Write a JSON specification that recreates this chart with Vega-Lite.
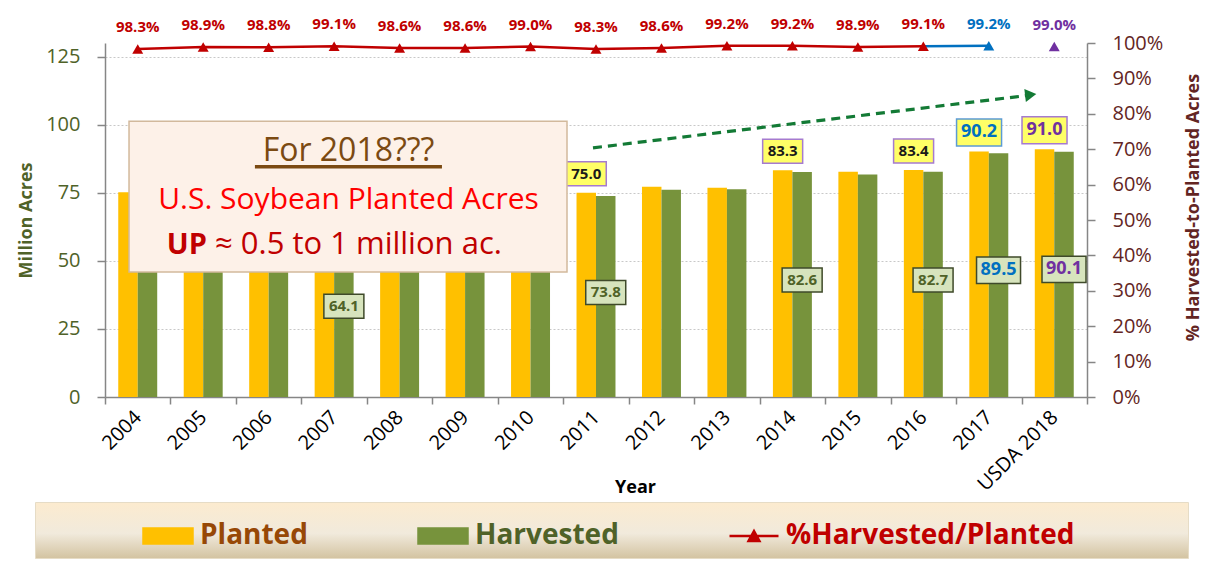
{
  "$schema": "https://vega.github.io/schema/vega-lite/v6.json",
  "width": 982,
  "height": 354,
  "autosize": {"type": "none"},
  "padding": {"left": 105, "top": 43, "right": 138, "bottom": 174},
  "background": "#ffffff",
  "config": {"font": "Open Sans", "view": {"stroke": null}, "axis": {"labelFont": "Open Sans", "titleFont": "Open Sans"}},
  "data": {"values": [
    {"year": "2004", "Planted": 75.2, "Harvested": 74.0, "pct": 0.983},
    {"year": "2005", "Planted": 72.0, "Harvested": 71.3, "pct": 0.989},
    {"year": "2006", "Planted": 75.5, "Harvested": 74.6, "pct": 0.988},
    {"year": "2007", "Planted": 64.7, "Harvested": 64.1, "pct": 0.991},
    {"year": "2008", "Planted": 75.7, "Harvested": 74.7, "pct": 0.986},
    {"year": "2009", "Planted": 77.5, "Harvested": 76.4, "pct": 0.986},
    {"year": "2010", "Planted": 77.4, "Harvested": 76.6, "pct": 0.990},
    {"year": "2011", "Planted": 75.0, "Harvested": 73.8, "pct": 0.983},
    {"year": "2012", "Planted": 77.2, "Harvested": 76.1, "pct": 0.986},
    {"year": "2013", "Planted": 76.8, "Harvested": 76.3, "pct": 0.992},
    {"year": "2014", "Planted": 83.3, "Harvested": 82.6, "pct": 0.992},
    {"year": "2015", "Planted": 82.7, "Harvested": 81.7, "pct": 0.989},
    {"year": "2016", "Planted": 83.4, "Harvested": 82.7, "pct": 0.991},
    {"year": "2017", "Planted": 90.2, "Harvested": 89.5, "pct": 0.992},
    {"year": "USDA 2018", "Planted": 91.0, "Harvested": 90.1, "pct": 0.990}
  ]},
  "resolve": {"scale": {"y": "independent"}},
  "layer": [
    {
      "layer": [
        {
          "transform": [{"fold": ["Planted", "Harvested"], "as": ["series", "acres"]}],
          "mark": {"type": "bar"},
          "encoding": {
            "x": {
              "field": "year", "type": "nominal",
              "scale": {"domain": ["2004","2005","2006","2007","2008","2009","2010","2011","2012","2013","2014","2015","2016","2017","USDA 2018"], "paddingInner": 0, "paddingOuter": 0},
              "axis": {
                "title": "Year", "titleFontSize": 18, "titleFontWeight": "bold", "titleColor": "#000000",
                "titleX": 530, "titleY": 90, "titleBaseline": "middle", "titleAlign": "center",
                "labelAngle": -45, "labelAlign": "right", "labelBaseline": "middle", "labelFontSize": 20, "labelColor": "#000000",
                "labelPadding": 10, "tickBand": "extent", "tickSize": 7, "tickColor": "#868686", "domainColor": "#868686", "domainWidth": 1.5, "tickWidth": 1.5
              }
            },
            "xOffset": {"field": "series", "type": "nominal", "scale": {"domain": ["Planted", "Harvested"], "paddingInner": 0, "paddingOuter": 0.68}},
            "y": {
              "field": "acres", "type": "quantitative", "scale": {"domain": [0, 125]},
              "axis": {
                "orient": "left", "title": "Million Acres", "titleFontSize": 18, "titleFontWeight": "bold", "titleColor": "#4F6228", "titlePadding": 10,
                "values": [0, 25, 50, 75, 100, 125], "labelColor": "#4F6228", "labelFontSize": 20, "labelPadding": 17,
                "tickSize": 8, "tickColor": "#868686", "domainColor": "#868686", "domainWidth": 1.5, "tickWidth": 1.5,
                "grid": true, "gridColor": "#C8C8C8", "gridDash": [2, 2], "gridWidth": 1
              }
            },
            "color": {
              "field": "series", "type": "nominal",
              "scale": {"domain": ["Planted", "Harvested", "%Harvested/Planted"], "range": ["#FFC000", "#77933C", "#C00000"]},
              "legend": {
                "orient": "none", "legendX": -70, "legendY": 459, "direction": "horizontal",
                "title": ".", "titleOrient": "left", "titleOpacity": 0, "titlePadding": 96, "titleFontSize": 10,
                "padding": 8, "labelFont": "Open Sans", "labelFontSize": 28, "labelFontWeight": "bold",
                "labelOffset": 6, "columnPadding": 105, "symbolSize": 2401, "symbolType": "M-1,-0.306H1V0.306H-1Z",
                "labelLimit": 700,
                "encode": {
                  "legend": {"update": {
                    "fill": {"value": {"gradient": "linear", "x1": 0, "y1": 0, "x2": 0, "y2": 1, "stops": [{"offset": 0, "color": "#FCEBCF"}, {"offset": 0.55, "color": "#F1EADC"}, {"offset": 1, "color": "#D3C3A1"}]}},
                    "stroke": {"value": "#E6DCC6"}
                  }},
                  "symbols": {"update": {
                    "shape": [{"test": "datum.value === '%Harvested/Planted'", "value": "M-1,0H1M-0.22,0.2L0,-0.2L0.22,0.2Z"}, {"value": "M-1,-0.306H1V0.306H-1Z"}],
                    "fill": [{"test": "datum.value === 'Planted'", "value": "#FFC000"}, {"test": "datum.value === 'Harvested'", "value": "#77933C"}, {"value": "#C00000"}],
                    "stroke": [{"test": "datum.value === '%Harvested/Planted'", "value": "#C00000"}, {"value": "transparent"}],
                    "strokeWidth": {"value": 2.5},
                    "opacity": {"value": 1}
                  }},
                  "labels": {"update": {
                    "text": {"signal": "datum.value === '%Harvested/Planted' ? datum.label + '\u2003\u2003\u2003\u2800' : datum.label"},
                    "fill": [{"test": "datum.value === 'Planted'", "value": "#974806"}, {"test": "datum.value === 'Harvested'", "value": "#4F6228"}, {"value": "#C00000"}]
                  }}
                }
              }
            }
          }
        },
        {
          "transform": [
            {"fold": ["Planted", "Harvested"], "as": ["series", "acres"]},
            {"filter": {"field": "series", "equal": "Planted"}},
            {"filter": {"field": "year", "oneOf": ["2011", "2014", "2016", "2017", "USDA 2018"]}}
          ],
          "mark": {"type": "point", "shape": "M-1,-0.6H1V0.6H-1Z", "filled": true, "fill": "#FFFF66", "strokeWidth": 1.5, "opacity": 1, "yOffset": -19},
          "encoding": {
            "x": {"field": "year", "type": "nominal"},
            "xOffset": {"field": "series", "type": "nominal"},
            "y": {"field": "acres", "type": "quantitative"},
            "stroke": {"condition": {"test": "datum.year == '2017'", "value": "#5B9BD5"}, "value": "#A57BCF"},
            "size": {"condition": {"test": "datum.year == '2017' || datum.year == 'USDA 2018'", "value": 2025}, "value": 1600}
          }
        },
        {
          "transform": [
            {"fold": ["Planted", "Harvested"], "as": ["series", "acres"]},
            {"filter": {"field": "series", "equal": "Planted"}},
            {"filter": {"field": "year", "oneOf": ["2011", "2014", "2016", "2017", "USDA 2018"]}}
          ],
          "mark": {"type": "text", "fontWeight": "bold", "baseline": "middle", "dy": -19},
          "encoding": {
            "x": {"field": "year", "type": "nominal"},
            "xOffset": {"field": "series", "type": "nominal"},
            "y": {"field": "acres", "type": "quantitative"},
            "text": {"field": "acres", "type": "quantitative", "format": ".1f"},
            "color": {"condition": [{"test": "datum.year == '2017'", "value": "#0070C0"}, {"test": "datum.year == 'USDA 2018'", "value": "#7030A0"}], "value": "#1A1A1A"},
            "size": {"condition": {"test": "datum.year == '2017' || datum.year == 'USDA 2018'", "value": 18}, "value": 15}
          }
        },
        {
          "data": {"values": [{"note": "box"}]},
          "mark": {"type": "rect", "fill": "#FDF1E8", "stroke": "#D2B99C", "strokeWidth": 1.5},
          "encoding": {
            "x": {"datum": "2004", "type": "nominal", "bandPosition": 0.367},
            "x2": {"datum": "2011", "bandPosition": 0.057},
            "y": {"datum": 101.3, "type": "quantitative"},
            "y2": {"datum": 45.9}
          }
        },
        {
          "data": {"values": [{"note": "For 2018???"}]},
          "mark": {"type": "text", "fontSize": 32, "color": "#7B4A12", "align": "center", "baseline": "alphabetic"},
          "encoding": {
            "x": {"datum": "2007", "type": "nominal", "bandPosition": 0.72},
            "y": {"datum": 86.5, "type": "quantitative"},
            "text": {"field": "note"}
          }
        },
        {
          "data": {"values": [{"note": "underline"}]},
          "mark": {"type": "rule", "color": "#7B4A12", "strokeWidth": 3.5},
          "encoding": {
            "x": {"datum": "2006", "type": "nominal", "bandPosition": 0.29},
            "x2": {"datum": "2009", "bandPosition": 0.147},
            "y": {"datum": 84.6, "type": "quantitative"}
          }
        },
        {
          "data": {"values": [{"note": "U.S. Soybean Planted Acres"}]},
          "mark": {"type": "text", "fontSize": 30, "color": "#FF0000", "align": "center", "baseline": "alphabetic"},
          "encoding": {
            "x": {"datum": "2007", "type": "nominal", "bandPosition": 0.72},
            "y": {"datum": 69.0, "type": "quantitative"},
            "text": {"field": "note"}
          }
        },
        {
          "data": {"values": [{"note": "UP"}]},
          "mark": {"type": "text", "fontSize": 29, "fontWeight": "bold", "color": "#C00000", "align": "right", "baseline": "alphabetic"},
          "encoding": {
            "x": {"datum": "2005", "type": "nominal", "bandPosition": 0.557},
            "y": {"datum": 52.5, "type": "quantitative"},
            "text": {"field": "note"}
          }
        },
        {
          "data": {"values": [{"note": "≈ 0.5 to 1 million ac."}]},
          "mark": {"type": "text", "fontSize": 31, "color": "#C00000", "align": "left", "baseline": "alphabetic"},
          "encoding": {
            "x": {"datum": "2005", "type": "nominal", "bandPosition": 0.68},
            "y": {"datum": 52.5, "type": "quantitative"},
            "text": {"field": "note"}
          }
        },
        {
          "data": {"values": [{"note": "arrow"}]},
          "mark": {"type": "rule", "color": "#137A35", "strokeWidth": 3.2, "strokeDash": [9, 6]},
          "encoding": {
            "x": {"datum": "2011", "type": "nominal", "bandPosition": 0.454},
            "y": {"datum": 91.5, "type": "quantitative"},
            "x2": {"datum": "USDA 2018", "bandPosition": 0.11},
            "y2": {"datum": 110.8}
          }
        },
        {
          "data": {"values": [{"note": "arrowhead"}]},
          "mark": {"type": "point", "shape": "triangle-right", "filled": true, "color": "#137A35", "size": 170, "angle": -7, "opacity": 1},
          "encoding": {
            "x": {"datum": "USDA 2018", "type": "nominal", "bandPosition": 0.14},
            "y": {"datum": 111.0, "type": "quantitative"}
          }
        }
      ]
    },
    {
      "encoding": {
        "x": {"field": "year", "type": "nominal"},
        "y": {
          "field": "pct", "type": "quantitative", "scale": {"domain": [0, 1]},
          "axis": {
            "orient": "right", "format": ".0%", "values": [0, 0.1, 0.2, 0.3, 0.4, 0.5, 0.6, 0.7, 0.8, 0.9, 1], "labelOverlap": false,
            "title": "% Harvested-to-Planted Acres", "titleFontSize": 18, "titleFontWeight": "bold", "titleColor": "#632523",
            "titleAngle": 270, "titleX": 106, "titleY": 164, "titleAlign": "center", "titleBaseline": "middle",
            "labelColor": "#632523", "labelFontSize": 20, "labelPadding": 17, "grid": false,
            "tickSize": 8, "tickColor": "#868686", "domainColor": "#868686", "domainWidth": 1.5, "tickWidth": 1.5
          }
        }
      },
      "layer": [
        {
          "transform": [{"filter": {"not": {"field": "year", "oneOf": ["2017", "USDA 2018"]}}}],
          "mark": {"type": "line", "strokeWidth": 2.5},
          "encoding": {
            "color": {"datum": "%Harvested/Planted", "type": "nominal", "scale": {"domain": ["Planted", "Harvested", "%Harvested/Planted"], "range": ["#FFC000", "#77933C", "#C00000"]}}
          }
        },
        {
          "transform": [{"filter": {"field": "year", "oneOf": ["2016", "2017"]}}],
          "mark": {"type": "line", "strokeWidth": 2.5, "color": "#0070C0"}
        },
        {
          "transform": [{"filter": {"not": {"field": "year", "oneOf": ["2017", "USDA 2018"]}}}],
          "mark": {"type": "point", "shape": "triangle-up", "filled": true, "size": 120, "opacity": 1},
          "encoding": {
            "color": {"datum": "%Harvested/Planted", "type": "nominal"}
          }
        },
        {
          "transform": [{"filter": {"field": "year", "oneOf": ["2017", "USDA 2018"]}}],
          "mark": {"type": "point", "shape": "triangle-up", "filled": true, "size": 120, "opacity": 1},
          "encoding": {
            "fill": {"condition": {"test": "datum.year == '2017'", "value": "#0070C0"}, "value": "#7030A0"}
          }
        },
        {
          "mark": {"type": "text", "fontWeight": "bold", "fontSize": 15, "dy": -22, "baseline": "middle"},
          "encoding": {
            "text": {"field": "pct", "type": "quantitative", "format": ".1%"},
            "color": {"condition": [{"test": "datum.year == '2017'", "value": "#0070C0"}, {"test": "datum.year == 'USDA 2018'", "value": "#7030A0"}], "value": "#C00000"}
          }
        }
      ]
    },
    {
      "transform": [
        {"fold": ["Planted", "Harvested"], "as": ["series", "acres"]},
        {"filter": {"field": "series", "equal": "Harvested"}},
        {"filter": {"field": "year", "oneOf": ["2007", "2011", "2014", "2016", "2017", "USDA 2018"]}}
      ],
      "encoding": {
        "x": {"field": "year", "type": "nominal"},
        "xOffset": {"field": "series", "type": "nominal"},
        "y": {"field": "acres", "type": "quantitative", "scale": {"domain": [0, 250]}, "axis": null}
      },
      "layer": [
        {
          "mark": {"type": "point", "shape": "M-1,-0.6H1V0.6H-1Z", "filled": true, "fill": "#D7E4BD", "stroke": "#3F4A2A", "strokeWidth": 1.5, "opacity": 1},
          "encoding": {
            "size": {"condition": {"test": "datum.year == '2017' || datum.year == 'USDA 2018'", "value": 1936}, "value": 1600}
          }
        },
        {
          "mark": {"type": "text", "fontWeight": "bold", "baseline": "middle"},
          "encoding": {
            "text": {"field": "acres", "type": "quantitative", "format": ".1f"},
            "color": {"condition": [{"test": "datum.year == '2017'", "value": "#0070C0"}, {"test": "datum.year == 'USDA 2018'", "value": "#7030A0"}], "value": "#4F6228"},
            "size": {"condition": {"test": "datum.year == '2017' || datum.year == 'USDA 2018'", "value": 18}, "value": 15}
          }
        }
      ]
    }
  ]
}
